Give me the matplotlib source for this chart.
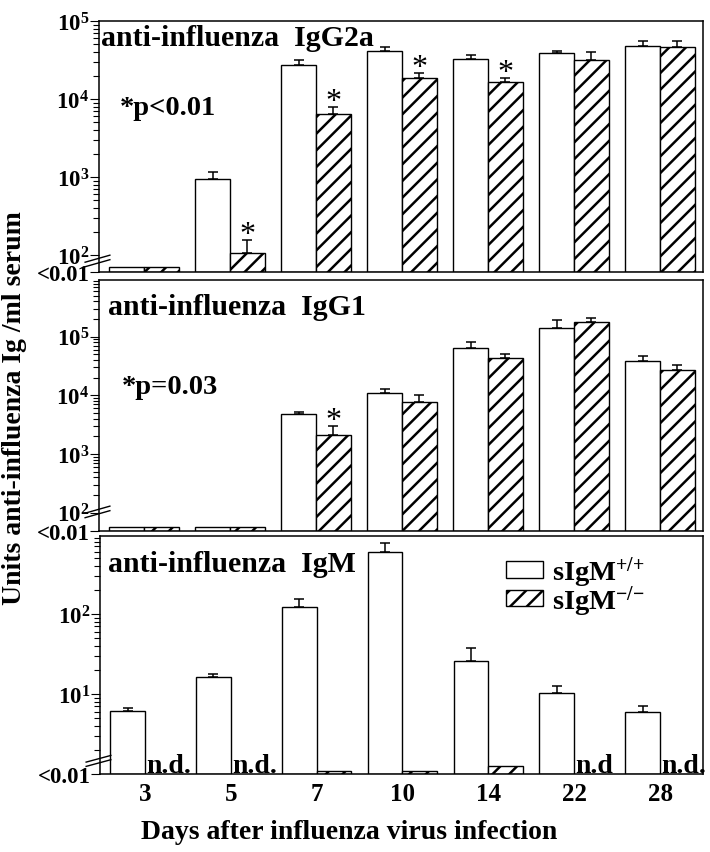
import numpy as np
import matplotlib
matplotlib.use("Agg")
import matplotlib.pyplot as plt
from matplotlib.ticker import FixedLocator, FixedFormatter

plt.rcParams["font.family"] = ["Liberation Serif", "DejaVu Serif"]
plt.rcParams["font.weight"] = "bold"
plt.rcParams["mathtext.fontset"] = "custom"
plt.rcParams["mathtext.rm"] = "Liberation Serif:bold"
plt.rcParams["mathtext.it"] = "Liberation Serif:bold"
plt.rcParams["mathtext.bf"] = "Liberation Serif:bold"
plt.rcParams["hatch.linewidth"] = 1.8

days = ["3", "5", "7", "10", "14", "22", "28"]
LOD = 0.01  # plotted as "<0.01"
ND = np.nan  # n.d.

# anti-influenza IgG2a
igg2a_wt = [LOD, 950, 27000, 41000, 33000, 39000, 48000]
igg2a_wt_sd = [0, 220, 5000, 5000, 4000, 2500, 7000]
igg2a_ko = [LOD, 106, 6500, 18400, 16300, 31500, 46000]
igg2a_ko_sd = [0, 50, 1500, 3400, 2100, 8500, 10000]
igg2a_sig = [False, True, True, True, True, False, False]

# anti-influenza IgG1
igg1_wt = [LOD, LOD, 4800, 11000, 65000, 141000, 38500]
igg1_wt_sd = [0, 0, 500, 1800, 16000, 49000, 8500]
igg1_ko = [LOD, LOD, 2140, 7600, 44000, 176000, 27000]
igg1_ko_sd = [0, 0, 820, 2600, 6000, 34000, 6000]
igg1_sig = [False, False, True, False, False, False, False]

# anti-influenza IgM
igm_wt = [6.1, 16.3, 121, 590, 26, 10.2, 6.0]
igm_wt_sd = [0.6, 1.3, 34, 180, 12, 2.3, 1.0]
igm_ko = [ND, ND, LOD, LOD, 1.25, ND, ND]
igm_ko_sd = [0, 0, 0, 0, 0, 0, 0]
igm_nd = ["n.d.", "n.d.", "", "", "", "n.d", "n.d."]

W, H = 710, 853
fig = plt.figure(figsize=(W / 100, H / 100), dpi=100)


def px_axes(left, top, right, bottom):
    return fig.add_axes([left / W, 1 - bottom / H, (right - left) / W, (bottom - top) / H])


def panel(ax, wt, wt_sd, ko, ko_sd, ylim, floor, majors, title, tpos, brk_y, sig=None):
    x = np.arange(len(days))
    w = 0.405
    ymin, ymax = ylim
    wt = np.asarray(wt, float)
    ko = np.asarray(ko, float)
    wt_h = np.where(wt <= LOD, floor, wt)
    ko_h = np.where(ko <= LOD, floor, ko)
    ok = ~np.isnan(ko_h)

    bw = ax.bar(x - w / 2, wt_h - ymin, w, bottom=ymin, color="white",
                edgecolor="black", lw=1.0, zorder=2)
    bk = ax.bar(x[ok] + w / 2, ko_h[ok] - ymin, w, bottom=ymin, color="white",
                edgecolor="black", hatch="//", lw=1.0, zorder=2)

    for xs, v, sd in ((x - w / 2, wt, wt_sd), (x + w / 2, ko, ko_sd)):
        sd = np.asarray(sd, float)
        m = sd > 0
        ax.errorbar(xs[m], v[m], yerr=[np.zeros(m.sum()), sd[m]], fmt="none",
                    ecolor="black", elinewidth=1.1, capsize=3.6, capthick=1.1, zorder=3)

    if sig is not None:
        ko_sd = np.asarray(ko_sd, float)
        for i, s in enumerate(sig):
            if s:
                ax.annotate("*", (x[i] + w / 2, ko[i] + ko_sd[i]), xytext=(0, -1.5),
                            textcoords="offset points", ha="center", va="baseline",
                            fontsize=23, fontweight="normal")

    ax.set_yscale("log")
    ax.set_ylim(ymin, ymax)
    ax.set_xlim(-0.523, 6.5)
    ax.set_xticks([])

    minors = [m * 10 ** d for d in range(-1, 7) for m in range(2, 10)]
    minors = [v for v in minors if majors[0] <= v <= ymax]
    ax.yaxis.set_major_locator(FixedLocator([ymin] + majors))
    ax.yaxis.set_major_formatter(FixedFormatter(
        ["<0.01"] + [r"$\mathdefault{10^{%d}}$" % round(np.log10(v)) for v in majors]))
    ax.yaxis.set_minor_locator(FixedLocator(minors))
    ax.tick_params(axis="y", which="major", length=6.5, width=0.8, labelsize=16.5, pad=0.5)
    ax.tick_params(axis="y", which="minor", length=4.3, width=0.8)
    for sp in ax.spines.values():
        sp.set_linewidth(1.1)

    ax.text(tpos[0], tpos[1], title, transform=ax.transAxes, fontsize=21.5,
            va="baseline", ha="left")

    # axis break marks on the left spine
    for dy in (-0.009, 0.009):
        ax.plot([-0.023, 0.018], [brk_y + dy - 0.014, brk_y + dy + 0.014],
                transform=ax.transAxes, color="black", lw=1.0, clip_on=False, zorder=5)
    return bw, bk


ax1 = px_axes(99, 22, 703, 273)
ax2 = px_axes(99, 281, 703, 532)
ax3 = px_axes(100, 537, 703, 775)

panel(ax1, igg2a_wt, igg2a_wt_sd, igg2a_ko, igg2a_ko_sd, (60.5, 1e5), 70,
      [1e2, 1e3, 1e4, 1e5], "anti-influenza  IgG2a", (0.004, 0.904), 0.044, igg2a_sig)
ax1.text(0.035, 0.629, "*p<0.01", transform=ax1.transAxes, fontsize=20.5, va="baseline")

panel(ax2, igg1_wt, igg1_wt_sd, igg1_ko, igg1_ko_sd, (49, 9.2e5), 57,
      [1e2, 1e3, 1e4, 1e5], "anti-influenza  IgG1", (0.015, 0.865), 0.076, igg1_sig)
ax2.text(0.038, 0.55, "*p=0.03", transform=ax2.transAxes, fontsize=20.5, va="baseline")

bw, bk = panel(ax3, igm_wt, igm_wt_sd, igm_ko, igm_ko_sd, (1.0, 944), 1.09,
               [1e1, 1e2], "anti-influenza  IgM", (0.013, 0.853), 0.055)
ax3.yaxis.set_minor_locator(FixedLocator(
    [m * 10 ** d for d in range(0, 3) for m in range(2, 10) if m * 10 ** d <= 944]))

x = np.arange(len(days))
for i, t in enumerate(igm_nd):
    if t:
        ax3.annotate(t, (x[i], 1.0), xytext=(1, 1.5), textcoords="offset points",
                     ha="left", va="baseline", fontsize=20, annotation_clip=False)

ax3.set_xticks(x)
ax3.set_xticklabels(days)
ax3.tick_params(axis="x", length=0, labelsize=18, pad=6)

ax3.legend([bw, bk], [r"sIgM$^{{+}/{+}}$", r"sIgM$^{{-}/{-}}$"], loc="upper left",
           bbox_to_anchor=(0.655, 0.97), frameon=False, fontsize=20.5,
           handlelength=1.3, handleheight=0.5, handletextpad=0.3,
           labelspacing=-0.2, borderaxespad=0)

fig.text(15 / W, 1 - 408 / H, "Units anti-influenza Ig /ml serum", rotation=90,
         ha="center", va="center", fontsize=20)
fig.text(349 / W, 1 - 833 / H, "Days after influenza virus infection",
         ha="center", va="center", fontsize=20)

fig.savefig("out.png", dpi=100)
